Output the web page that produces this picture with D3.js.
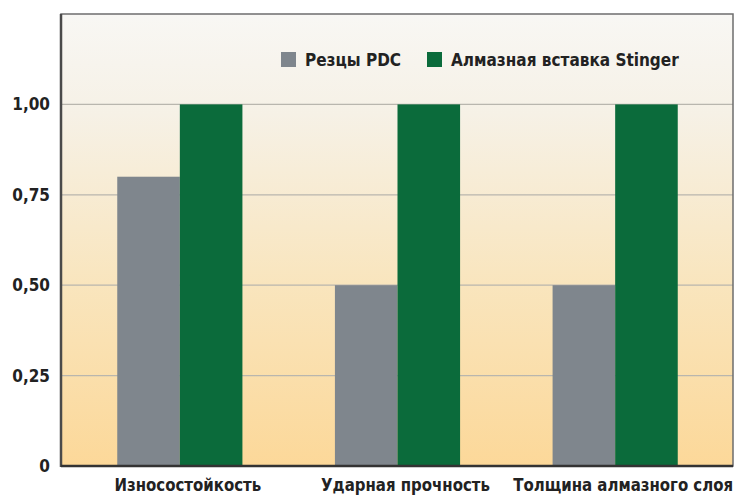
<!DOCTYPE html>
<html>
<head>
<meta charset="utf-8">
<script src="https://cdn.jsdelivr.net/npm/d3@7"></script>
<style>
  body { margin: 0; background: #fff; }
  text { font-family: "Liberation Sans Narrow", "DejaVu Sans Condensed", "Roboto", sans-serif; font-weight: bold; fill: #222; }
</style>
</head>
<body>
<script>
// chart data
var categories = ["Износостойкость", "Ударная прочность", "Толщина алмазного слоя"];
var seriesNames = ["Резцы PDC", "Алмазная вставка Stinger"];
var pdcValues = [0.80, 0.50, 0.50];
var stingerValues = [1.00, 1.00, 1.00];
var yTicks = [0, 0.25, 0.5, 0.75, 1.0];
var yTickLabels = ["0", "0,25", "0,50", "0,75", "1,00"];
var colors = ["#7f868d", "#0b6b3b"];

var width = 739, height = 495;
var plotLeft = 61, plotRight = 733, plotTop = 14, plotBottom = 466;

var svg = d3.select("body").append("svg")
  .attr("width", width)
  .attr("height", height);

var grad = svg.append("defs").append("linearGradient")
  .attr("id", "bg")
  .attr("x1", 0).attr("y1", 0).attr("x2", 0).attr("y2", 1);
grad.append("stop").attr("offset", "0%").attr("stop-color", "#f8f7f4");
grad.append("stop").attr("offset", "22%").attr("stop-color", "#f6f1e6");
grad.append("stop").attr("offset", "60%").attr("stop-color", "#f9e5bd");
grad.append("stop").attr("offset", "100%").attr("stop-color", "#fcd899");

var y = d3.scaleLinear().domain([0, 1.25]).range([plotBottom, plotTop]);
var x0 = d3.scaleBand().domain(categories)
  .range([plotLeft + 10, plotRight - 9])
  .paddingInner(0.425)
  .paddingOuter(0.2125);
var x1 = d3.scaleBand().domain(seriesNames).range([0, x0.bandwidth()]);

// background
svg.append("rect")
  .attr("x", plotLeft).attr("y", plotTop)
  .attr("width", plotRight - plotLeft).attr("height", plotBottom - plotTop)
  .attr("fill", "url(#bg)");

// grid lines
svg.selectAll(".grid").data(yTicks.slice(1)).enter().append("line")
  .attr("x1", plotLeft).attr("x2", plotRight)
  .attr("y1", function(d) { return y(d); })
  .attr("y2", function(d) { return y(d); })
  .attr("stroke", "#b9b6ae")
  .attr("stroke-width", 1.2);

// bars
var rows = categories.map(function(c, i) {
  return { cat: c, vals: [pdcValues[i], stingerValues[i]] };
});
var groups = svg.selectAll(".grp").data(rows).enter().append("g")
  .attr("transform", function(d) { return "translate(" + x0(d.cat) + ",0)"; });
groups.selectAll("rect").data(function(d) { return d.vals; }).enter().append("rect")
  .attr("x", function(d, i) { return x1(seriesNames[i]); })
  .attr("y", function(d) { return y(d); })
  .attr("width", x1.bandwidth())
  .attr("height", function(d) { return y(0) - y(d); })
  .attr("fill", function(d, i) { return colors[i]; });

// frame
svg.append("rect")
  .attr("x", plotLeft).attr("y", plotTop)
  .attr("width", plotRight - plotLeft).attr("height", plotBottom - plotTop)
  .attr("fill", "none")
  .attr("stroke", "#6d6d6d")
  .attr("stroke-width", 1.5);
svg.append("line")
  .attr("x1", plotLeft).attr("x2", plotLeft).attr("y1", plotTop).attr("y2", plotBottom + 1)
  .attr("stroke", "#4a4a4a").attr("stroke-width", 2.5);
svg.append("line")
  .attr("x1", plotLeft).attr("x2", plotRight).attr("y1", plotBottom).attr("y2", plotBottom)
  .attr("stroke", "#333").attr("stroke-width", 2.5);

// y tick labels
svg.selectAll(".ylab").data(yTicks).enter().append("text")
  .attr("x", 50)
  .attr("y", function(d) { return y(d); })
  .attr("dy", "0.35em")
  .attr("text-anchor", "end")
  .attr("font-size", 17)
  .text(function(d, i) { return yTickLabels[i]; });

// x labels (slightly condensed, taller type like the original)
svg.selectAll(".xlab").data(categories).enter().append("text")
  .attr("transform", function(d) {
    return "translate(" + (x0(d) + x0.bandwidth() / 2 + 8) + ",491) scale(0.9,1)";
  })
  .attr("text-anchor", "middle")
  .attr("font-size", 18.5)
  .text(function(d) { return d; });

// legend
var legX = [281, 427];
var leg = svg.selectAll(".leg").data(seriesNames).enter().append("g")
  .attr("transform", function(d, i) { return "translate(" + legX[i] + ",52)"; });
leg.append("rect")
  .attr("width", 15).attr("height", 15)
  .attr("fill", function(d, i) { return colors[i]; });
leg.append("text")
  .attr("x", 24).attr("y", 8).attr("dy", "0.35em")
  .attr("font-size", 17)
  .text(function(d) { return d; });
</script>
</body>
</html>
